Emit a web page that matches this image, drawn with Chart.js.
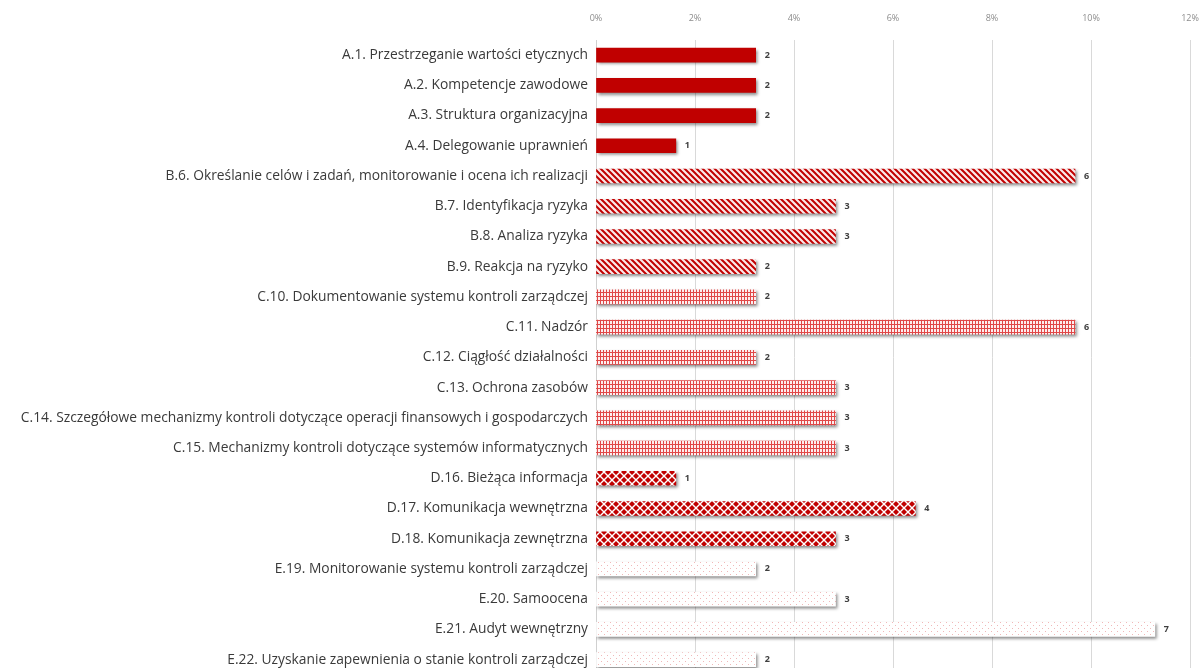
<!doctype html>
<html lang="pl">
  <head>
    <meta charset="UTF-8" />
    <title>Kontrola zarządcza</title>
    <script src="https://cdn.jsdelivr.net/npm/chart.js"></script>
    <style>
      html, body { margin: 0; padding: 0; background: #fff; overflow: hidden; }
      #wrap { width: 1203px; height: 691px; }
    </style>
  </head>
  <body>
    <div id="wrap"><canvas id="wykres" width="1203" height="691"></canvas></div>

    <script>
      // dane z wykresu
      const kategorie = [
        "A.1. Przestrzeganie wartości etycznych",
        "A.2. Kompetencje zawodowe",
        "A.3. Struktura organizacyjna",
        "A.4. Delegowanie uprawnień",
        "B.6. Określanie celów i zadań, monitorowanie i ocena ich realizacji",
        "B.7. Identyfikacja ryzyka",
        "B.8. Analiza ryzyka",
        "B.9. Reakcja na ryzyko",
        "C.10. Dokumentowanie systemu kontroli zarządczej",
        "C.11. Nadzór",
        "C.12. Ciągłość działalności",
        "C.13. Ochrona zasobów",
        "C.14. Szczegółowe mechanizmy kontroli dotyczące operacji finansowych i gospodarczych",
        "C.15. Mechanizmy kontroli dotyczące systemów informatycznych",
        "D.16. Bieżąca informacja",
        "D.17. Komunikacja wewnętrzna",
        "D.18. Komunikacja zewnętrzna",
        "E.19. Monitorowanie systemu kontroli zarządczej",
        "E.20. Samoocena",
        "E.21. Audyt wewnętrzny",
        "E.22. Uzyskanie zapewnienia o stanie kontroli zarządczej",
      ];
      const liczby = [2, 2, 2, 1, 6, 3, 3, 2, 2, 6, 2, 3, 3, 3, 1, 4, 3, 2, 3, 7, 2];
      const grupy = ["A", "A", "A", "A", "B", "B", "B", "B", "C", "C", "C", "C", "C", "C", "D", "D", "D", "E", "E", "E", "E"];
      const osX = [0, 2, 4, 6, 8, 10, 12];

      const suma = liczby.reduce((a, b) => a + b, 0);
      const procenty = liczby.map((l) => (l / suma) * 100);

      const CZERWONY = "#c00000";

      function kafelek(w, h, rysuj) {
        const c = document.createElement("canvas");
        c.width = w;
        c.height = h;
        const g = c.getContext("2d");
        rysuj(g);
        return document.getElementById("wykres").getContext("2d").createPattern(c, "repeat");
      }

      const wzory = {
        A: CZERWONY,
        B: kafelek(6, 6, (g) => {
          g.fillStyle = "#fbe8e8";
          g.fillRect(0, 0, 6, 6);
          g.strokeStyle = CZERWONY;
          g.lineWidth = 2;
          g.beginPath();
          g.moveTo(-1, -1); g.lineTo(7, 7);
          g.moveTo(5, -1); g.lineTo(7, 1);
          g.moveTo(-1, 5); g.lineTo(1, 7);
          g.stroke();
        }),
        C: kafelek(3, 4, (g) => {
          g.fillStyle = "#fdeeee";
          g.fillRect(0, 0, 3, 4);
          g.fillStyle = "#e04848";
          g.fillRect(0, 0, 1, 4);
          g.fillRect(0, 0, 3, 1);
        }),
        D: kafelek(8, 8, (g) => {
          g.fillStyle = "#ffffff";
          g.fillRect(0, 0, 8, 8);
          g.fillStyle = CZERWONY;
          const romb = (x, y) => {
            g.beginPath();
            g.moveTo(x, y - 3); g.lineTo(x + 3, y); g.lineTo(x, y + 3); g.lineTo(x - 3, y);
            g.closePath();
            g.fill();
          };
          romb(4, 4); romb(0, 0); romb(8, 0); romb(0, 8); romb(8, 8);
        }),
        E: kafelek(6, 6, (g) => {
          g.fillStyle = "#ffffff";
          g.fillRect(0, 0, 6, 6);
          g.fillStyle = "#f0b8b8";
          g.fillRect(1, 1, 1, 1);
          g.fillRect(4, 4, 1, 1);
        }),
      };

      // cień pod słupkami
      const cien = {
        id: "cien",
        beforeDatasetsDraw(chart) {
          const ctx = chart.ctx;
          ctx.save();
          ctx.shadowColor = "rgba(0,0,0,0.45)";
          ctx.shadowBlur = 3;
          ctx.shadowOffsetX = 1.5;
          ctx.shadowOffsetY = 2;
        },
        afterDatasetsDraw(chart) {
          chart.ctx.restore();
        },
      };

      // etykiety z liczbą odpowiedzi
      const etykiety = {
        id: "etykiety",
        afterDraw(chart) {
          const ctx = chart.ctx;
          const meta = chart.getDatasetMeta(0);
          ctx.save();
          ctx.font = "bold 9px 'Open Sans'";
          ctx.fillStyle = "#404040";
          ctx.textAlign = "left";
          ctx.textBaseline = "middle";
          meta.data.forEach((bar, i) => {
            ctx.fillText(String(liczby[i]), bar.x + 9, bar.y);
          });
          ctx.restore();
        },
      };

      new Chart(document.getElementById("wykres"), {
        type: "bar",
        data: {
          labels: kategorie,
          datasets: [
            {
              data: procenty,
              backgroundColor: grupy.map((g) => wzory[g]),
              borderWidth: 0,
              barThickness: 14,
            },
          ],
        },
        options: {
          indexAxis: "y",
          responsive: false,
          animation: false,
          layout: { padding: { left: 0, right: 13, top: 0, bottom: 0 } },
          plugins: { legend: { display: false }, tooltip: { enabled: false } },
          scales: {
            x: {
              position: "top",
              min: 0,
              max: 12,
              afterBuildTicks: (s) => { s.ticks = osX.map((v) => ({ value: v })); },
              afterFit: (s) => {
                s.height = 40;
                s.paddingLeft = 0;
                s.paddingRight = 0;
              },
              ticks: {
                padding: 16,
                color: "#8c8c8c",
                font: { family: "'Open Sans'", size: 9 },
                callback: (v) => v + "%",
              },
              grid: { color: "#d9d9d9", drawTicks: false },
              border: { display: false },
            },
            y: {
              afterFit: (s) => { s.width = 596; },
              ticks: {
                padding: 8,
                color: "#3a3a3a",
                font: { family: "'Open Sans'", size: 13.8 },
              },
              grid: { display: false, drawTicks: false },
              border: { display: true, color: "#d0d0d0" },
            },
          },
        },
        plugins: [cien, etykiety],
      });
    </script>
  </body>
</html>
